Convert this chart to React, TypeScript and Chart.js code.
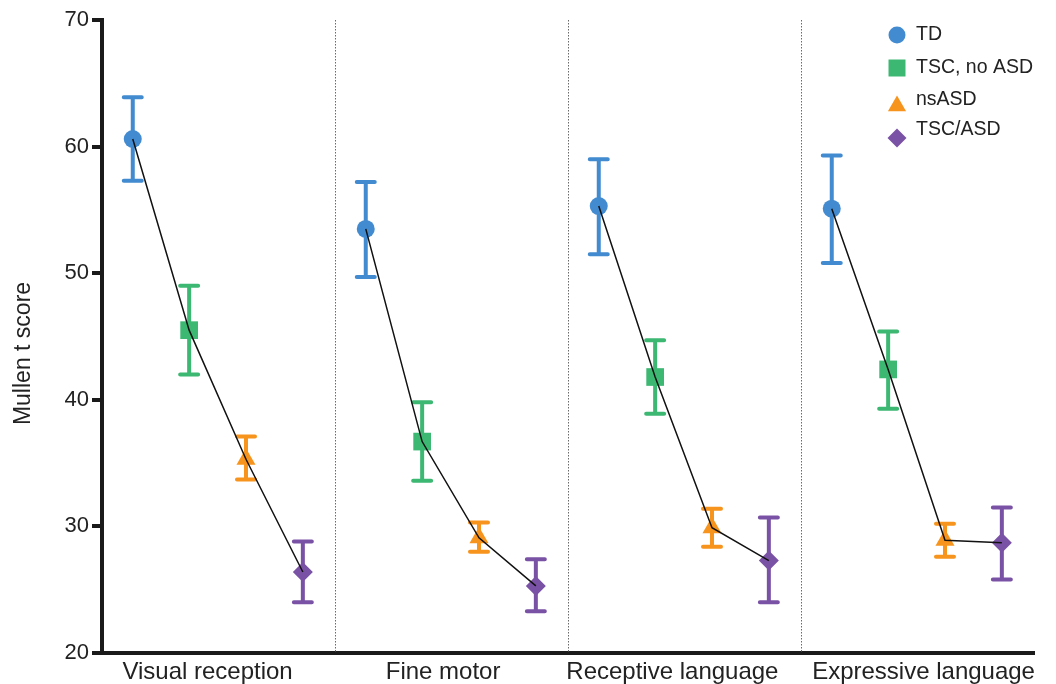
import React, { useEffect, useRef } from 'react';
import { Chart, registerables } from 'chart.js';

Chart.register(...registerables);

// ---------- data ----------
const domains = ['Visual reception', 'Fine motor', 'Receptive language', 'Expressive language'];
const groupNames = ['TD', 'TSC, no ASD', 'nsASD', 'TSC/ASD'];

const tdMean = [60.6, 53.5, 55.3, 55.1];
const tdLow = [57.3, 49.7, 51.5, 50.8];
const tdHigh = [63.9, 57.2, 59.0, 59.3];

const tscMean = [45.5, 36.7, 41.8, 42.4];
const tscLow = [42.0, 33.6, 38.9, 39.3];
const tscHigh = [49.0, 39.8, 44.7, 45.4];

const nsMean = [35.3, 29.1, 29.9, 28.9];
const nsLow = [33.7, 28.0, 28.4, 27.6];
const nsHigh = [37.1, 30.3, 31.4, 30.2];

const asdMean = [26.4, 25.3, 27.3, 28.7];
const asdLow = [24.0, 23.3, 24.0, 25.8];
const asdHigh = [28.8, 27.4, 30.7, 31.5];

const yTicks = [20, 30, 40, 50, 60, 70];

// ---------- layout / style ----------
const means = [tdMean, tscMean, nsMean, asdMean];
const lows = [tdLow, tscLow, nsLow, asdLow];
const highs = [tdHigh, tscHigh, nsHigh, asdHigh];
const slotOffsets = [0.132, 0.374, 0.618, 0.862];
const labelOffsets = [0.453, 0.464, 0.448, 0.526];
const colors = ['#428bd0', '#3db873', '#f7941d', '#7a52a5'];
const pointStyles = ['circle', 'rect', 'triangle', 'rectRot'];
const pointRadii = [9, 12.5, 11, 10];
const FONT = "'Liberation Sans', Arial, Helvetica, sans-serif";

function drawMarker(ctx: CanvasRenderingContext2D, style: string, x: number, y: number, r: number, color: string) {
  ctx.save();
  ctx.fillStyle = color;
  ctx.beginPath();
  if (style === 'circle') {
    ctx.arc(x, y, r, 0, Math.PI * 2);
  } else if (style === 'rect') {
    ctx.rect(x - r, y - r, 2 * r, 2 * r);
  } else if (style === 'triangle') {
    const h = r * 1.5;
    const w = r * Math.sqrt(3);
    ctx.moveTo(x, y - r);
    ctx.lineTo(x + w / 2, y - r + h);
    ctx.lineTo(x - w / 2, y - r + h);
    ctx.closePath();
  } else {
    ctx.moveTo(x, y - r);
    ctx.lineTo(x + r, y);
    ctx.lineTo(x, y + r);
    ctx.lineTo(x - r, y);
    ctx.closePath();
  }
  ctx.fill();
  ctx.restore();
}

const backgroundPlugin = {
  id: 'dividersAndErrors',
  beforeDatasetsDraw(chart: any) {
    const { ctx, chartArea, scales } = chart;
    const xs = scales.x;
    const ys = scales.y;
    ctx.save();
    // dotted dividers between domains
    ctx.strokeStyle = '#6a6a6a';
    ctx.lineWidth = 1;
    ctx.setLineDash([1.5, 1.5]);
    for (let d = 1; d < domains.length; d++) {
      const px = Math.round(xs.getPixelForValue(d)) + 0.5;
      ctx.beginPath();
      ctx.moveTo(px, chartArea.top);
      ctx.lineTo(px, chartArea.bottom);
      ctx.stroke();
    }
    ctx.setLineDash([]);
    // error bars
    ctx.lineWidth = 4;
    ctx.lineCap = 'round';
    for (let g = 0; g < groupNames.length; g++) {
      ctx.strokeStyle = colors[g];
      for (let d = 0; d < domains.length; d++) {
        const px = xs.getPixelForValue(d + slotOffsets[g]);
        const pLo = ys.getPixelForValue(lows[g][d]);
        const pHi = ys.getPixelForValue(highs[g][d]);
        ctx.beginPath();
        ctx.moveTo(px, pLo);
        ctx.lineTo(px, pHi);
        ctx.moveTo(px - 9, pLo);
        ctx.lineTo(px + 9, pLo);
        ctx.moveTo(px - 9, pHi);
        ctx.lineTo(px + 9, pHi);
        ctx.stroke();
      }
    }
    ctx.restore();
  },
  afterDraw(chart: any) {
    const { ctx, chartArea } = chart;
    ctx.save();
    // y-axis title
    ctx.fillStyle = '#222';
    ctx.font = `23px ${FONT}`;
    ctx.textAlign = 'center';
    ctx.textBaseline = 'middle';
    ctx.translate(24, (chartArea.top + chartArea.bottom) / 2 + 17);
    ctx.rotate(-Math.PI / 2);
    ctx.fillText('Mullen t score', 0, 0);
    ctx.restore();

    // legend
    ctx.save();
    const textY = [35, 68, 100, 130];
    const markY = [35, 68, 106, 138];
    const legR = [8.5, 8.5, 10.5, 9.5];
    ctx.font = `19.5px ${FONT}`;
    ctx.textAlign = 'left';
    ctx.textBaseline = 'middle';
    for (let g = 0; g < groupNames.length; g++) {
      drawMarker(ctx, pointStyles[g], 897, markY[g], legR[g], colors[g]);
      ctx.fillStyle = '#222';
      ctx.fillText(groupNames[g], 916, textY[g]);
    }
    ctx.restore();
  },
};

export default function App() {
  const canvasRef = useRef<HTMLCanvasElement | null>(null);

  useEffect(() => {
    document.body.style.margin = '0';
    const canvas = canvasRef.current;
    if (!canvas) return;

    const pointSets = groupNames.map((name, g) => ({
      label: name,
      data: domains.map((_, d) => ({ x: d + slotOffsets[g], y: means[g][d] })),
      showLine: false,
      pointStyle: pointStyles[g],
      pointRadius: pointRadii[g],
      pointBackgroundColor: colors[g],
      pointBorderWidth: 0,
      pointBorderColor: colors[g],
      backgroundColor: colors[g],
      order: 1,
    }));

    const lineSets = domains.map((dom, d) => ({
      label: dom,
      data: groupNames.map((_, g) => ({ x: d + slotOffsets[g], y: means[g][d] })),
      showLine: true,
      borderColor: '#111',
      borderWidth: 1.5,
      pointRadius: 0,
      fill: false,
      order: 0,
    }));

    const chart = new Chart(canvas, {
      type: 'scatter',
      data: { datasets: [...pointSets, ...lineSets] as any },
      options: {
        animation: false,
        responsive: false,
        devicePixelRatio: 1,
        layout: { padding: { left: 0, right: 22, top: 20, bottom: 0 } },
        plugins: {
          legend: { display: false },
          tooltip: { enabled: false },
          title: { display: false },
        },
        scales: {
          x: {
            type: 'linear',
            min: 0,
            max: domains.length,
            afterBuildTicks: (scale: any) => {
              scale.ticks = domains.map((_, d) => ({ value: d + labelOffsets[d] }));
            },
            afterFit: (scale: any) => {
              scale.height = 31;
            },
            ticks: {
              autoSkip: false,
              maxRotation: 0,
              minRotation: 0,
              padding: 5,
              color: '#222',
              font: { family: FONT, size: 24 },
              callback: (_v: any, i: number) => domains[i],
            },
            grid: { display: false, drawTicks: false },
            border: { display: true, color: '#1a1a1a', width: 4 },
          },
          y: {
            type: 'linear',
            min: 20,
            max: 70,
            afterBuildTicks: (scale: any) => {
              scale.ticks = yTicks.map((v) => ({ value: v }));
            },
            afterFit: (scale: any) => {
              scale.width = 102;
            },
            ticks: {
              padding: 3,
              color: '#222',
              font: { family: FONT, size: 22 },
              callback: (v: any) => String(v),
            },
            grid: {
              display: true,
              drawOnChartArea: false,
              drawTicks: true,
              tickLength: 10,
              tickWidth: 4,
              tickColor: '#1a1a1a',
              lineWidth: 4,
              color: '#1a1a1a',
            },
            border: { display: true, color: '#1a1a1a', width: 4 },
          },
        },
      },
      plugins: [backgroundPlugin],
    });

    return () => {
      chart.destroy();
    };
  }, []);

  return (
    <div style={{ width: 1056, height: 684, position: 'relative', background: '#fff' }}>
      <canvas ref={canvasRef} width={1056} height={684} style={{ display: 'block' }} />
    </div>
  );
}
